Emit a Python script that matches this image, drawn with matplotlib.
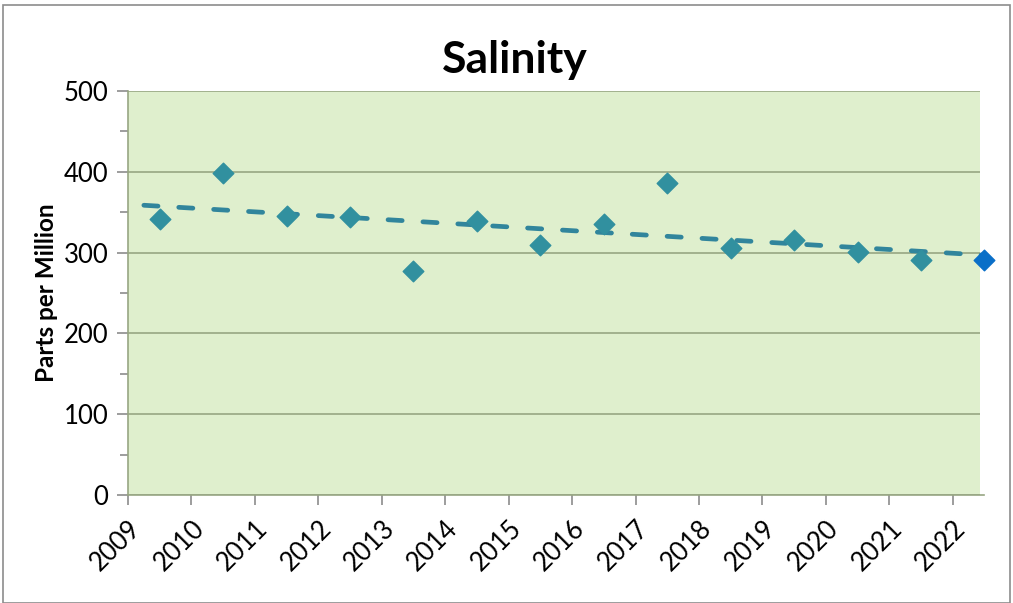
import matplotlib.pyplot as plt
import numpy as np
from matplotlib.patches import Rectangle

## Data

years = [2009.5, 2010.5, 2011.5, 2012.5, 2013.5, 2014.5, 2015.5,
         2016.5, 2017.5, 2018.5, 2019.5, 2020.5, 2021.5, 2022.5]
salinity = [342, 398, 345, 344, 277, 339, 309, 335, 386, 306, 316, 301, 291, 291]
tick_years = list(range(2009, 2023))

## Plotting

plt.rcParams['font.family'] = ['Lato', 'DejaVu Sans']

fig = plt.figure(figsize=(10.13, 6.03), dpi=100)
fig.patches.append(Rectangle((0.003, 0.0), 0.994, 0.992, transform=fig.transFigure,
                             fill=False, edgecolor="#8c8c8c", linewidth=1.2))
ax = fig.add_axes([128/1013, 1 - 495/603, (980 - 128)/1013, (495 - 91)/603])
ax.set_facecolor("#dfefcd")

ax.set_xlim(2009, 2022.43)
ax.set_ylim(0, 500)

# trend line (linear fit)
slope, intercept = np.polyfit(years, salinity, 1)
tx = np.array([2009.25, 2022.45])
ax.plot(tx, slope*tx + intercept, color="#31859c", linewidth=3.4,
        linestyle=(0, (3.0, 4.4)), dash_capstyle="round",
        zorder=3, clip_on=False)

ax.scatter(years[:-1], salinity[:-1], marker="D", s=110, color="#31909f", zorder=4)
ax.scatter(years[-1:], salinity[-1:], marker="D", s=110, color="#0a6fc8", zorder=4,
           clip_on=False)

ax.set_yticks([0, 100, 200, 300, 400, 500])
ax.set_yticks([50, 150, 250, 350, 450], minor=True)
ax.set_xticks(tick_years)
ax.set_xticklabels([str(y) for y in tick_years], rotation=45, ha="right",
                   rotation_mode="anchor")
ax.yaxis.grid(True, color="#97a683", linewidth=1.2)
ax.set_axisbelow(True)

for s in ["top", "right"]:
    ax.spines[s].set_visible(False)
for s in ["left", "bottom"]:
    ax.spines[s].set_color("#97a683")
    ax.spines[s].set_linewidth(1.2)
ax.spines["bottom"].set_bounds(2009, 2022.5)

ax.tick_params(axis="both", which="both", direction="out", color="#8c8c8c",
               labelsize=18.5, width=1.2)
ax.tick_params(axis="y", which="major", length=8, pad=6)
ax.tick_params(axis="y", which="minor", length=6)
ax.tick_params(axis="x", length=7, pad=8)

ax.set_ylabel("Parts per Million", fontsize=17.5, fontweight="bold", labelpad=4)
fig.text(515/1013, 1 - 60/603, "Salinity", fontsize=32, fontweight="bold",
         ha="center", va="center")

fig.savefig("out.png", dpi=100)
